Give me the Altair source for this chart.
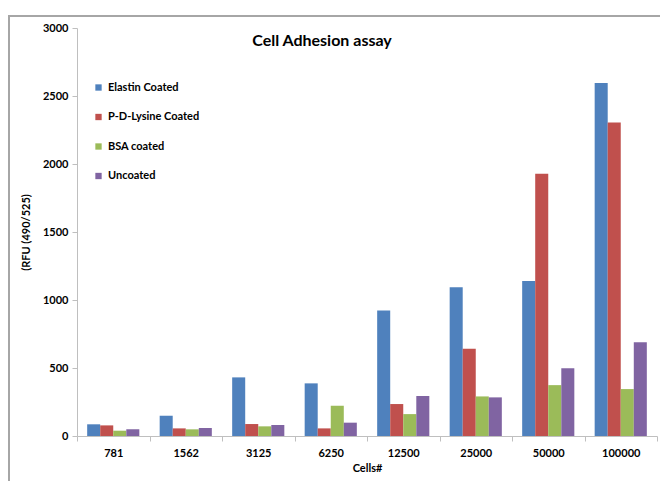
import altair as alt
import pandas as pd

cells = ["781", "1562", "3125", "6250", "12500", "25000", "50000", "100000"]
series = ["Elastin Coated", "P-D-Lysine Coated", "BSA coated", "Uncoated"]
elastin = [86, 149, 431, 387, 922, 1094, 1140, 2596]
pdlysine = [78, 56, 88, 56, 235, 641, 1928, 2305]
bsa = [39, 49, 71, 223, 161, 291, 374, 345]
uncoated = [49, 59, 81, 98, 294, 284, 499, 690]
colors = ["#4F81BD", "#C0504D", "#9BBB59", "#8064A2"]
y_ticks = [0, 500, 1000, 1500, 2000, 2500, 3000]

rows = []
for name, vals in zip(series, [elastin, pdlysine, bsa, uncoated]):
    for c, v in zip(cells, vals):
        rows.append({"cells": c, "series": name, "rfu": v})
df = pd.DataFrame(rows)

FONT = "Lato"

bars = alt.Chart(df).mark_bar().encode(
    x=alt.X("cells:N", sort=cells,
            scale=alt.Scale(paddingInner=0, paddingOuter=0),
            axis=alt.Axis(title="Cells#", labelAngle=0, tickBand="extent",
                          labelPadding=6, titlePadding=4)),
    xOffset=alt.XOffset("series:N", sort=series,
                        scale=alt.Scale(paddingInner=0, paddingOuter=0.78)),
    y=alt.Y("rfu:Q", scale=alt.Scale(domain=[0, 3000], nice=False),
            axis=alt.Axis(title="(RFU (490/525)", values=y_ticks, grid=False,
                          format="d", titlePadding=11, labelPadding=4)),
    color=alt.Color("series:N", sort=series,
                    scale=alt.Scale(domain=series, range=colors),
                    legend=alt.Legend(title=None, orient="none", legendX=16, legendY=54,
                                      symbolType="square", symbolSize=40,
                                      rowPadding=17.5, labelFontSize=11,
                                      labelFont=FONT, labelFontWeight="bold",
                                      labelLimit=300, symbolStrokeWidth=0)),
)

frame_df = pd.DataFrame({"f": [0]})
top_line = alt.Chart(frame_df).mark_rule(color="#A6A6A6", strokeWidth=2).encode(
    x=alt.value(-69), x2=alt.value(620), y=alt.value(-12))
left_line = alt.Chart(frame_df).mark_rule(color="#A6A6A6", strokeWidth=2).encode(
    x=alt.value(-68), y=alt.value(-12), y2=alt.value(480))

chart = alt.layer(top_line, left_line, bars).properties(
    width=580, height=408,
    padding={"left": 69, "top": 20, "right": 3, "bottom": 45},
    autosize=alt.AutoSizeParams(type="none"),
    title=alt.TitleParams("Cell Adhesion assay", font=FONT, fontSize=16,
                          fontWeight="bold", anchor="middle", dx=-45, offset=-14, dy=20),
).configure_view(stroke=None).configure_axis(
    domainColor="#BFBFBF", tickColor="#BFBFBF", tickSize=5,
    labelFont=FONT, labelFontSize=11, labelFontWeight="bold", labelColor="#000",
    titleFont=FONT, titleFontSize=11, titleFontWeight="bold", titleColor="#000",
)

chart.save("out.html", embed_options={"renderer": "svg", "actions": False})
